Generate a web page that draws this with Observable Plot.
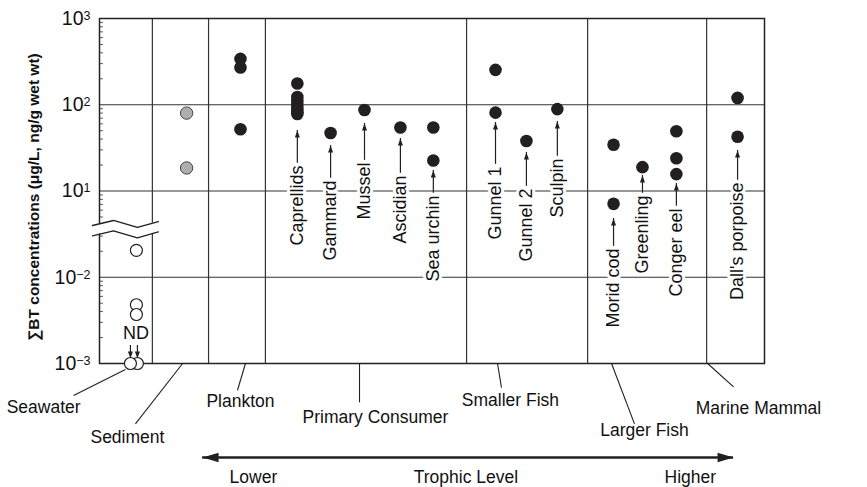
<!DOCTYPE html>
<html>
<head>
<meta charset="utf-8">
<script src="https://cdn.jsdelivr.net/npm/d3@7"></script>
<script src="https://cdn.jsdelivr.net/npm/@observablehq/plot@0.6"></script>
<style>
  body { margin: 0; background: #fff; }
  #chart svg { display: block; }
</style>
</head>
<body>
<div id="chart"></div>
<script>
// ---------------- DATA ----------------
const species = ["Seawater", "Sediment", "Plankton", "Caprellids", "Gammard", "Mussel", "Ascidian",
  "Sea urchin", "Gunnel 1", "Gunnel 2", "Sculpin", "Morid cod", "Greenling", "Conger eel", "Dall's porpoise"];
// position of each species along the trophic axis (slot units)
const speciesPos = [1.11, 2.62, 4.24, 5.95, 6.95, 7.97, 9.05, 10.04, 11.91, 12.84, 13.77, 15.46, 16.33, 17.35, 19.19];
// ΣBT concentrations (µg/L for seawater, ng/g wet wt otherwise)
const seawaterValues = [0.0205, 0.0048, 0.0037];
const sedimentValues = [80, 18.5];
const planktonValues = [340, 270, 52];
const caprellidsValues = [176, 123, 112, 103, 95, 88, 82, 78];
const gammardValues = [47];
const musselValues = [87];
const ascidianValues = [54.5];
const seaUrchinValues = [54.5, 22.6];
const gunnel1Values = [254, 81];
const gunnel2Values = [38];
const sculpinValues = [89];
const moridCodValues = [34.4, 7.1];
const greenlingValues = [18.9];
const congerEelValues = [49.3, 24, 15.7];
const dallsPorpoiseValues = [120, 42.5];
const concentrations = [seawaterValues, sedimentValues, planktonValues, caprellidsValues, gammardValues,
  musselValues, ascidianValues, seaUrchinValues, gunnel1Values, gunnel2Values, sculpinValues,
  moridCodValues, greenlingValues, congerEelValues, dallsPorpoiseValues];
// not detected seawater samples (plotted at detection limit)
const ndPos = [0.93, 1.14];
const ndValues = [0.001, 0.001];

const groups = ["Seawater", "Sediment", "Plankton", "Primary Consumer", "Smaller Fish", "Larger Fish", "Marine Mammal"];
const groupBoundaries = [1.59, 3.28, 4.99, 11.04, 14.68, 18.26];

const yTickValues = [0.001, 0.01, 10, 100, 1000];
const yTickExponents = ["\u22123", "\u22122", "1", "2", "3"];
const minorTickValues = [0.002, 0.003, 0.004, 0.005, 0.006, 0.007, 0.008, 0.009, 0.02, 0.03,
  5, 6, 7, 8, 9, 20, 30, 40, 50, 60, 70, 80, 90, 200, 300, 400, 500, 600, 700, 800, 900];

const trophicLabels = ["Lower", "Trophic Level", "Higher"];

// ---------------- BROKEN LOG TRANSFORM ----------------
// 10^-3..10^-2 then break (hides 10^-2..10^1), then 10^1..10^3
const T = v => v < 0.1 ? Math.log10(v) + 3 : Math.log10(v) + 1;

// ---------------- LAYOUT (annotation placement, in chart units) ----------------
const W = 867, H = 487, mL = 99, mR = 103, mT = 18, mB = 124;
const labelled = species.slice(3);                 // species with rotated labels
const labelX = speciesPos.slice(3);
const labelMin = concentrations.slice(3).map(a => Math.min(...a));
const arrowGap = [0.19, 0.145, 0.157, 0.128, 0.116, 0.114, 0.133, 0.144, 0.17, 0.097, 0.109, 0.159];
const labelTop = [2.296, 2.122, 2.330, 2.180, 1.948, 2.284, 2.029, 2.377, 1.333, 1.948, 1.797, 2.099];

const leaderStartX = [0.78, 2.50, 4.39, 7.82, 11.97, 15.40, 18.29];
const leaderStartY = [-0.07, 0, 0, 0, 0, 0, 0];
const leaderEndX = [-0.78, 1.08, 4.15, 7.82, 12.09, 16.09, 19.07];
const leaderEndY = [-0.37, -0.70, -0.31, -0.45, -0.28, -0.70, -0.27];
const groupLabelX = [-1.68, 0.84, 4.24, 8.30, 12.36, 16.39, 19.82];
const groupLabelY = [-0.51, -0.86, -0.44, -0.63, -0.43, -0.77, -0.52];

const trophicX = [4.63, 11.02, 17.77];
const trophicY = -1.32;
const trophicArrow = {x1: 3.10, x2: 19.07, y: -1.09};

const breakX = [-0.21, 0.42, 1.14, 1.77];
const breakUpper = [1.60, 1.658, 1.577, 1.646];
const breakOffset = 0.12;

// ---------------- DERIVED TABLES ----------------
const points = species.flatMap((s, i) => concentrations[i].map(v => ({species: s, i, x: speciesPos[i], v})));
const openPts = points.filter(d => d.i === 0);
const sedPts = points.filter(d => d.i === 1);
const filledPts = points.filter(d => d.i > 1);
const ndPts = ndPos.map((x, k) => ({x, v: ndValues[k]})).reverse();

const labels = labelled.map((s, k) => {
  const tip = T(labelMin[k]) - arrowGap[k];
  return {name: s, x: labelX[k], tip, top: labelTop[k]};
});
const breakData = breakX.map((x, k) => ({x, yu: breakUpper[k], yl: breakUpper[k] - breakOffset}));
const groupTable = groups.map((g, k) => ({
  name: g, sx: leaderStartX[k], sy: leaderStartY[k], ex: leaderEndX[k], ey: leaderEndY[k],
  lx: groupLabelX[k], ly: groupLabelY[k]
}));

// arrowhead symbols: triangle pointing right with its tip at the origin
const head = ratio => ({
  draw(ctx, size) {
    const L = Math.sqrt(size / Math.PI);
    const w = L * ratio;
    ctx.moveTo(0, 0);
    ctx.lineTo(-L, -w);
    ctx.lineTo(-L, w);
    ctx.closePath();
  }
});
const bigHead = head(0.29);
const smallHead = head(0.36);

const ink = "#231f20";
const lineColor = "#333";
const font = "Liberation Sans, Arial, Helvetica, sans-serif";

const svg = Plot.plot({
  width: W, height: H,
  marginLeft: mL, marginRight: mR, marginTop: mT, marginBottom: mB,
  style: {fontFamily: font, background: "#fff", color: "#111"},
  x: {domain: [0, 20], axis: null},
  y: {domain: [0, 4], axis: null},
  marks: [
    // minor ticks inside the left axis
    Plot.ruleY(minorTickValues, {y: T, x1: 0, x2: 0.12, stroke: lineColor, strokeWidth: 0.8}),
    // major horizontal grid lines
    Plot.ruleY(yTickValues.slice(1, 4), {y: T, stroke: lineColor, strokeWidth: 1.2}),
    // group boundaries
    Plot.ruleX(groupBoundaries, {stroke: lineColor, strokeWidth: 1.2}),
    Plot.frame({stroke: "#222", strokeWidth: 1.5}),
    Plot.axisY({
      ticks: yTickValues.map(T),
      tickFormat: (d, k) => "10|" + yTickExponents[k],
      tickSize: 0, tickPadding: 9, fontSize: 19.5, label: null, stroke: "none"
    }),
    // axis break
    Plot.area(breakData, {x1: "x", y1: "yu", y2: "yl", fill: "white"}),
    Plot.line(breakData, {x: "x", y: "yu", stroke: ink, strokeWidth: 1.3}),
    Plot.line(breakData, {x: "x", y: "yl", stroke: ink, strokeWidth: 1.3}),
    // rotated species labels with halo
    Plot.text(labels, {
      x: "x", y: "top", text: "name", rotate: -90, textAnchor: "end", lineAnchor: "middle",
      fontSize: 18, fill: "#111", stroke: "white", strokeWidth: 6, paintOrder: "stroke"
    }),
    // label arrows
    Plot.ruleX(labels, {x: "x", y1: "tip", y2: d => d.top + 0.025, stroke: ink, strokeWidth: 1.2}),
    Plot.dot(labels, {x: "x", y: "tip", symbol: smallHead, r: 7, rotate: -90, fill: ink, stroke: "none"}),
    // data points
    Plot.dot(openPts, {x: "x", y: d => T(d.v), r: 6, fill: "white", stroke: ink, strokeWidth: 1.2}),
    Plot.dot(ndPts, {x: "x", y: d => T(d.v), r: 6, fill: "white", stroke: ink, strokeWidth: 1.2}),
    Plot.dot(sedPts, {x: "x", y: d => T(d.v), r: 6.2, fill: "url(#stipple)", stroke: "#444", strokeWidth: 1}),
    Plot.dot(filledPts, {x: "x", y: d => T(d.v), r: 6.3, fill: ink, stroke: "none"}),
    // ND annotation
    Plot.text(["ND"], {x: d3.mean(ndPos) + 0.06, y: 0.35, text: d => d, fontSize: 18, fill: "#111"}),
    Plot.ruleX(ndPos, {x: d => d, y1: 0.209, y2: 0.1, stroke: ink, strokeWidth: 1.2}),
    Plot.dot(ndPos, {x: d => d, y: 0.058, symbol: smallHead, r: 7, rotate: 90, fill: ink, stroke: "none"}),
    // group leaders and labels
    Plot.link(groupTable, {x1: "sx", y1: "sy", x2: "ex", y2: "ey", stroke: ink, strokeWidth: 1.1}),
    Plot.text(groupTable, {x: "lx", y: "ly", text: "name", fontSize: 17.5, fill: "#111", lineAnchor: "middle"}),
    // trophic level arrow
    Plot.ruleY([trophicArrow], {y: "y", x1: "x1", x2: "x2", stroke: ink, strokeWidth: 2.6}),
    Plot.dot([trophicArrow], {x: "x1", y: "y", symbol: bigHead, r: 16, rotate: 180, fill: ink, stroke: "none"}),
    Plot.dot([trophicArrow], {x: "x2", y: "y", symbol: bigHead, r: 16, rotate: 0, fill: ink, stroke: "none"}),
    Plot.text(trophicLabels, {x: (d, k) => trophicX[k], y: trophicY, text: d => d, fontSize: 17.5, fill: "#111", lineAnchor: "middle"}),
    // y-axis title
    Plot.text(["\u2211BT concentrations (\u03bcg/L, ng/g wet wt)"], {
      frameAnchor: "left", dx: -65, dy: 6, rotate: -90, text: d => d, textAnchor: "middle",
      fontSize: 15.5, fontWeight: "bold", fill: "#111", lineAnchor: "middle"
    })
  ]
});

// stipple pattern for sediment markers
const defs = d3.select(svg).insert("defs", ":first-child");
const pat = defs.append("pattern").attr("id", "stipple").attr("patternUnits", "userSpaceOnUse")
  .attr("width", 2).attr("height", 2);
pat.append("rect").attr("width", 2).attr("height", 2).attr("fill", "#cfcfcf");
pat.append("rect").attr("width", 1).attr("height", 2).attr("fill", "#8c8c8c");

// superscript exponents on the y tick labels
d3.select(svg).selectAll('[aria-label="y-axis tick label"] text').each(function () {
  const [base, exp] = this.textContent.split("|");
  const t = d3.select(this);
  t.text(null);
  t.append("tspan").text(base);
  t.append("tspan").attr("dy", "-0.4em").attr("font-size", "12.5px").text(exp);
});

document.getElementById("chart").appendChild(svg);
</script>
</body>
</html>
